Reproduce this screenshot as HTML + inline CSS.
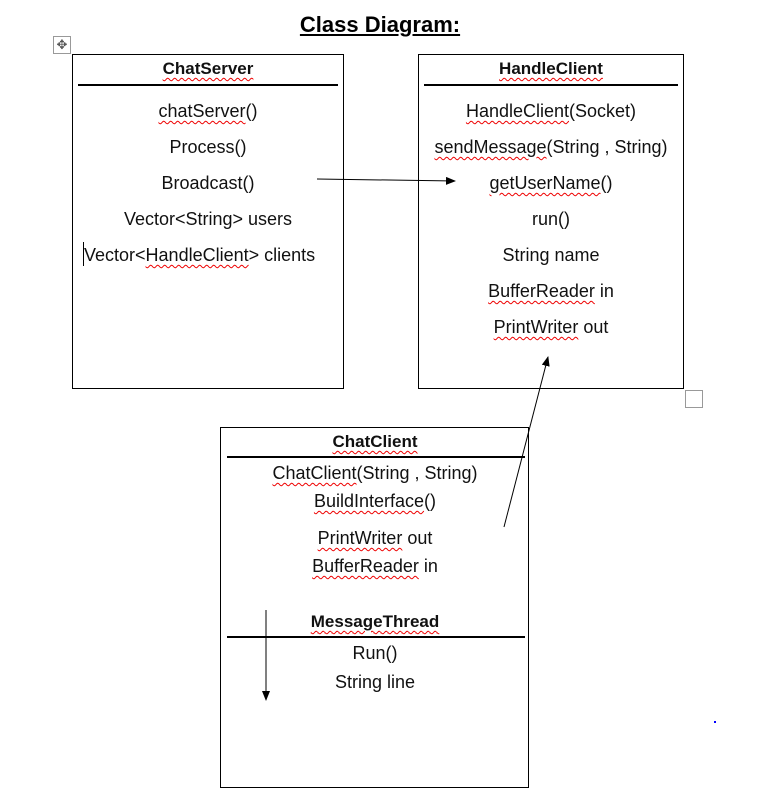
<!DOCTYPE html>
<html><head><style>
body{margin:0;width:764px;height:797px;background:#fff;position:relative;font-family:"Liberation Sans",sans-serif;overflow:hidden}
.b{position:absolute;border:1px solid #000;box-sizing:border-box}
.t{position:absolute;width:320px;text-align:center;font-size:18px;color:#111;line-height:20px;transform:translateX(-160px)}
.h{font-weight:bold;font-size:17px}
.w{text-decoration:underline wavy #e00;text-decoration-thickness:1px;text-underline-offset:3px}
.l{position:absolute;height:2px;background:#000}
</style></head><body>
<div style="position:absolute;left:0;width:764px;top:12px;text-align:center;font-weight:bold;font-size:22px;text-decoration:underline"><span style="position:relative;left:-2px">Class Diagram:</span></div>
<div style="position:absolute;left:53px;top:36px;width:16px;height:16px;border:1px solid #999;font-size:13px;line-height:16px;text-align:center;color:#555">✥</div>
<div class="b" style="left:72px;top:54px;width:272px;height:335px"></div>
<div class="l" style="left:78px;top:84px;width:260px"></div>
<div class="t h" style="left:208px;top:59px"><span class="w">ChatServer</span></div>
<div class="t" style="left:208px;top:101px"><span class="w">chatServer</span>()</div>
<div class="t" style="left:208px;top:137px">Process()</div>
<div class="t" style="left:208px;top:173px">Broadcast()</div>
<div class="t" style="left:208px;top:209px">Vector&lt;String&gt; users</div>
<div style="position:absolute;left:84px;top:245px;font-size:18px;line-height:20px;color:#111;white-space:nowrap">Vector&lt;<span class="w">HandleClient</span>&gt; clients</div>
<div style="position:absolute;left:83px;top:242px;width:1px;height:24px;background:#000"></div>
<div class="b" style="left:418px;top:54px;width:266px;height:335px"></div>
<div class="l" style="left:424px;top:84px;width:254px"></div>
<div class="t h" style="left:551px;top:59px"><span class="w">HandleClient</span></div>
<div class="t" style="left:551px;top:101px"><span class="w">HandleClient</span>(Socket)</div>
<div class="t" style="left:551px;top:137px"><span class="w">sendMessage</span>(String , String)</div>
<div class="t" style="left:551px;top:173px"><span class="w">getUserName</span>()</div>
<div class="t" style="left:551px;top:209px">run()</div>
<div class="t" style="left:551px;top:245px">String name</div>
<div class="t" style="left:551px;top:281px"><span class="w">BufferReader</span> in</div>
<div class="t" style="left:551px;top:317px"><span class="w">PrintWriter</span> out</div>
<div style="position:absolute;left:685px;top:390px;width:16px;height:16px;border:1px solid #999"></div>
<div class="b" style="left:220px;top:427px;width:309px;height:361px"></div>
<div class="l" style="left:227px;top:456px;width:298px"></div>
<div class="t h" style="left:375px;top:432px"><span class="w">ChatClient</span></div>
<div class="t" style="left:375px;top:463px"><span class="w">ChatClient</span>(String , String)</div>
<div class="t" style="left:375px;top:491px"><span class="w">BuildInterface</span>()</div>
<div class="t" style="left:375px;top:528px"><span class="w">PrintWriter</span> out</div>
<div class="t" style="left:375px;top:556px"><span class="w">BufferReader</span> in</div>
<div class="t h" style="left:375px;top:612px"><span class="w">MessageThread</span></div>
<div class="l" style="left:227px;top:636px;width:298px"></div>
<div class="t" style="left:375px;top:643px">Run()</div>
<div class="t" style="left:375px;top:672px">String line</div>
<div style="position:absolute;left:714px;top:721px;width:2px;height:2px;background:#00f"></div>
<svg style="position:absolute;left:0;top:0" width="764" height="797">
<defs><marker id="a" markerWidth="10" markerHeight="8" refX="9" refY="4" orient="auto" markerUnits="userSpaceOnUse"><path d="M0,0L10,4L0,8z" fill="#000"/></marker></defs>
<line x1="317" y1="179" x2="455" y2="181" stroke="#000" stroke-width="1" marker-end="url(#a)"/>
<line x1="504" y1="527" x2="548" y2="357" stroke="#000" stroke-width="1" marker-end="url(#a)"/>
<line x1="266" y1="610" x2="266" y2="700" stroke="#000" stroke-width="1" marker-end="url(#a)"/>
</svg>
</body></html>
